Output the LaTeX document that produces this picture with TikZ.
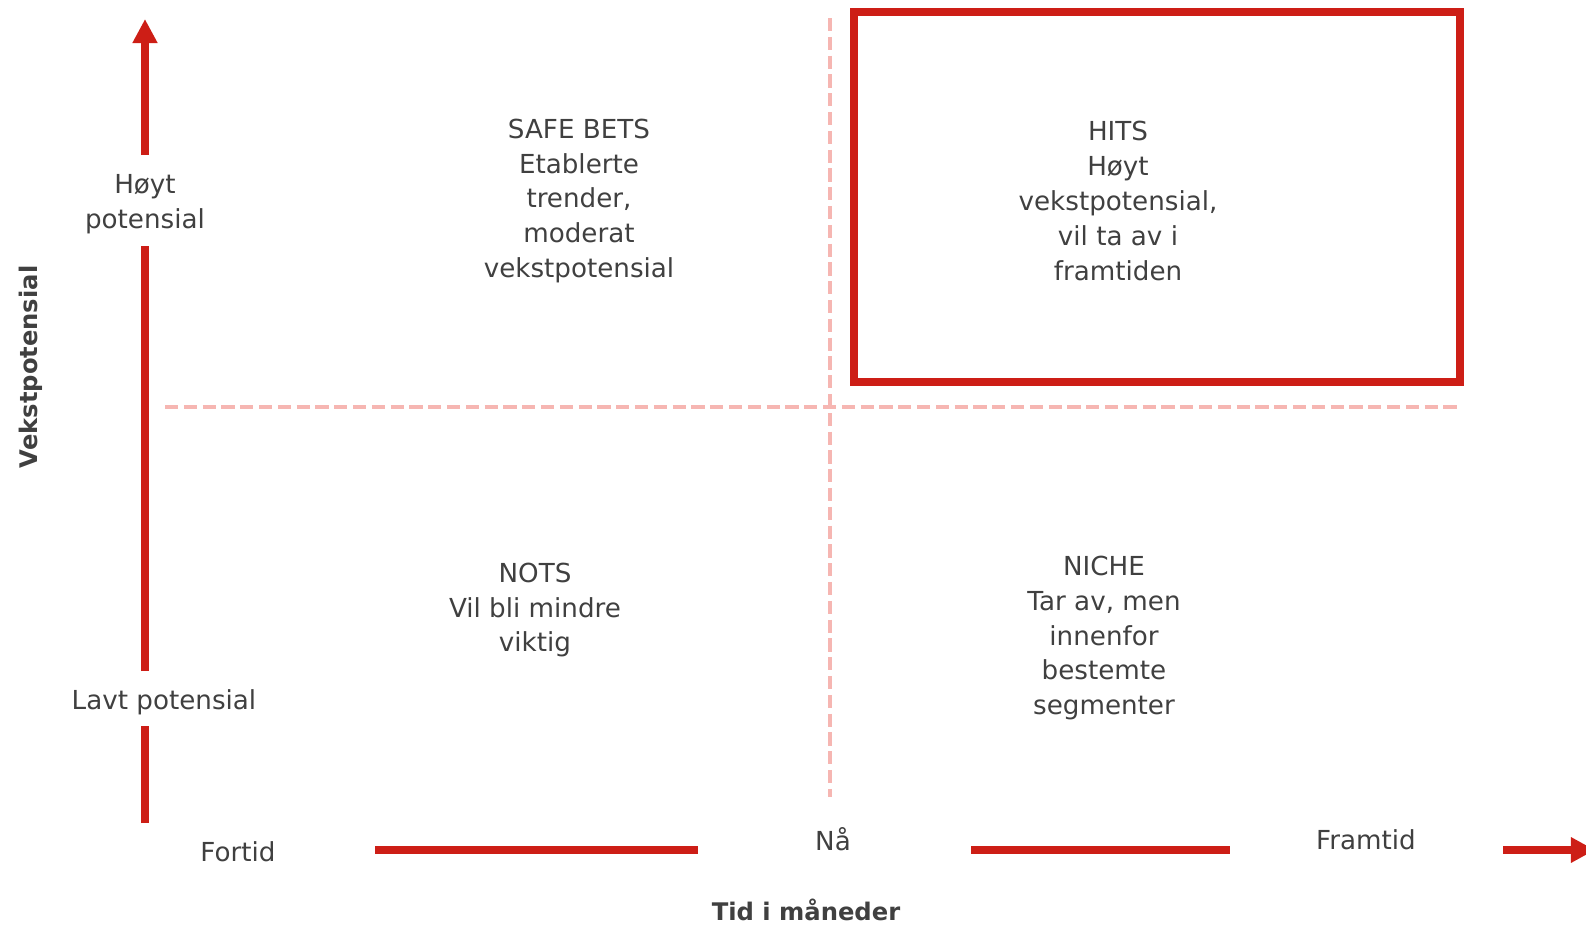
\documentclass[tikz,border=0pt]{standalone}
\usepackage{fontspec}
\setmainfont{DejaVu Sans}
\usetikzlibrary{arrows.meta,calc}
\definecolor{axisred}{RGB}{205,30,22}
\definecolor{gridpink}{RGB}{246,182,178}
\definecolor{textgray}{RGB}{64,64,64}

\begin{document}
\begin{tikzpicture}
           [x=0.02cm,y=-0.02cm,
            axis/.style={color=axisred,line width=4.6pt},
            grid/.style={color=gridpink,line width=2.4pt,dash pattern=on 7.5pt off 3.2pt},
            label/.style={text=textgray,align=center,inner sep=0pt,
              font=\fontsize{14.9}{19.9}\selectfont},
            title/.style={text=textgray,inner sep=0pt,
              font=\fontsize{13.8}{16}\selectfont\bfseries}]
           \useasboundingbox (0,0) rectangle (1586,927);

           \draw[grid] (830,18) -- (830,797);
           \draw[grid] (165,407) -- (1457,407);
           \draw[axis] (854,12) rectangle (1460,382);

           \node[label] (safe) at (579,201) {SAFE BETS\\Etablerte\\trender,\\moderat\\vekstpotensial};
           \node[label] (hits) at (1118,201) {HITS\\Høyt\\vekstpotensial,\\vil ta av i\\framtiden};
           \node[label] (nots) at (535,610) {NOTS\\Vil bli mindre\\viktig};
           \node[label] (niche) at (1104,638) {NICHE\\Tar av, men\\innenfor\\bestemte\\segmenter};

           \node[label] (hoyt) at (145,204) {Høyt\\potensial};
           \node[label] (lavt) at (164,702) {Lavt potensial};
           \node[title,rotate=90] (vekst) at (31,367) {Vekstpotensial};

           \node[label] (fortid) at (238,852) {Fortid};
           \node[label] (naa) at (833,839) {Nå};
           \node[label] (framtid) at (1366,840) {Framtid};
           \node[title] (tid) at (806,910) {Tid i måneder};

           \coordinate (ya) at (145,823);
           \coordinate (yb) at (145,726);
           \coordinate (yc) at (145,671);
           \coordinate (yd) at (145,246);
           \coordinate (ye) at (145,155);
           \coordinate (yf) at (145,19);
           \draw[axis] (ya) -- (yb);
           \draw[axis] (yc) -- (yd);
           \draw[axis,-{Triangle[length=13.7pt,width=13.4pt]}] (ye) -- (yf);

           \coordinate (xa) at (375,850);
           \coordinate (xb) at (698,850);
           \coordinate (xc) at (971,850);
           \coordinate (xd) at (1230,850);
           \coordinate (xe) at (1503,850);
           \coordinate (xf) at (1595,850);
           \draw[axis] (xa) -- (xb);
           \draw[axis] (xc) -- (xd);
           \draw[axis,-{Triangle[length=13.7pt,width=13.7pt]}] (xe) -- (xf);
         \end{tikzpicture}
\end{document}
